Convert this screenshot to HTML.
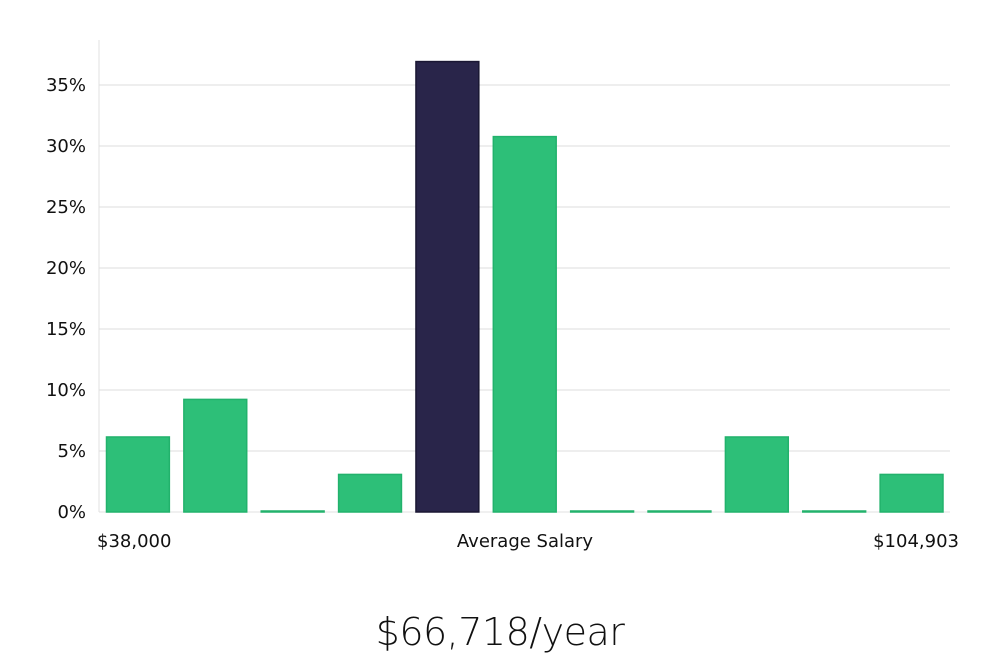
<!DOCTYPE html>
<html><head><meta charset="utf-8">
<style>
html,body{margin:0;padding:0;background:#fff;}
body{width:1000px;height:660px;overflow:hidden;font-family:"Liberation Sans","DejaVu Sans",sans-serif;}
#title{position:absolute;left:0;width:1000px;top:610px;text-align:center;font-size:38px;color:#111;font-family:"DejaVu Sans","Liberation Sans",sans-serif;font-weight:200;letter-spacing:-0.5px;}
</style></head>
<body>
<svg id="chart" width="1000" height="600" style="position:absolute;left:0;top:0"></svg>
<div id="title">$66,718/year</div>
<script>
const bins = ["b1","b2","b3","b4","b5","b6","b7","b8","b9","b10","b11"];
const values = [6.15,9.23,0,3.08,36.92,30.77,0,0,6.15,0,3.08];
const highlightIndex = 4;
const yTicks = [0,5,10,15,20,25,30,35];
const xLabels = ["$38,000","Average Salary","$104,903"];

const NS="http://www.w3.org/2000/svg";
const svg=document.getElementById('chart');
const X0=99,X1=950,Y0=512,PXPER=12.2;
const y=v=>Y0-v*PXPER;
const step=(X1-X0)/bins.length;
const xb=i=>X0+i*step+7.5;
const bw=step-14.5;
function mk(t,a){const e=document.createElementNS(NS,t);for(const k in a)e.setAttribute(k,a[k]);svg.appendChild(e);return e;}

yTicks.forEach(t=>{
  if(t>0){const g=mk('line',{x1:X0,x2:X1,y1:y(t),y2:y(t),stroke:'#dcdcdc','stroke-width':1});
  
  }
  const l=mk('text',{x:86,y:y(t)+6,'text-anchor':'end','font-size':18,fill:'#111','font-family':'DejaVu Sans, Liberation Sans, sans-serif'});
  l.textContent=t+'%';
  
  
});
const ax=mk('line',{x1:X0,x2:X0,y1:40,y2:Y0,stroke:'#e0e0e0','stroke-width':1});


const bx=mk('line',{x1:X0,x2:X1,y1:Y0,y2:Y0,stroke:'#e0e0e0','stroke-width':1});



values.forEach((v,i)=>{
  const hi=i===highlightIndex;
  const h=Math.max(v*PXPER,1);
  const r=mk('rect',{x:xb(i),y:Y0-h,width:bw,height:h,fill:hi?'#29254a':'#2dbf78',stroke:hi?'#1a1733':'#22b26c','stroke-width':1.5});
  
  
});

const pos=[[97,'start'],[525,'middle'],[959,'end']];
xLabels.forEach((s,i)=>{
  const t=mk('text',{x:pos[i][0],y:547,'text-anchor':pos[i][1],'font-size':18,fill:'#111','font-family':'DejaVu Sans, Liberation Sans, sans-serif'});
  t.textContent=s;
  
  
});
</script>
</body></html>
